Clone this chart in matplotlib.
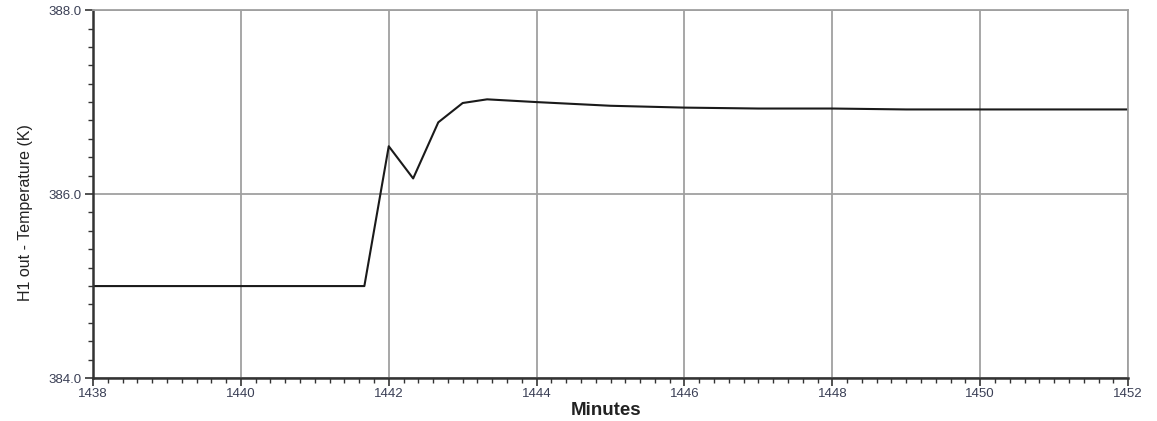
import matplotlib
matplotlib.use("Agg")
import matplotlib.pyplot as plt
from matplotlib.ticker import MultipleLocator, FormatStrFormatter

minutes = [1438.0, 1441.67, 1442.0, 1442.33, 1442.67, 1443.0, 1443.33, 1444.0,
           1445.0, 1446.0, 1447.0, 1448.0, 1449.0, 1450.0, 1451.0, 1452.0]
temperature = [385.0, 385.0, 386.52, 386.17, 386.78, 386.99, 387.03, 387.0,
               386.96, 386.94, 386.93, 386.93, 386.92, 386.92, 386.92, 386.92]

plt.rcParams['font.family'] = ['Liberation Sans', 'DejaVu Sans']

fig = plt.figure(figsize=(11.57, 4.21), dpi=100)
ax = fig.add_axes([0.0804, 0.102, 0.8946, 0.874])

ax.plot(minutes, temperature, color='#1a1a1a', lw=1.5)

ax.set_xlim(1438, 1452)
ax.set_ylim(384, 388)
ax.xaxis.set_major_locator(MultipleLocator(2))
ax.xaxis.set_minor_locator(MultipleLocator(0.2))
ax.yaxis.set_major_locator(MultipleLocator(2))
ax.yaxis.set_minor_locator(MultipleLocator(0.2))
ax.yaxis.set_major_formatter(FormatStrFormatter('%.1f'))

ax.grid(True, which='major', color='#a0a0a0', lw=1.3)
ax.tick_params(axis='both', which='major', length=6, width=1.2, labelsize=9.5,
               labelcolor='#3a3f55', color='#333333')
ax.tick_params(axis='both', which='minor', length=3.5, width=1.0, color='#333333')
ax.tick_params(axis='x', pad=1)
ax.tick_params(axis='y', pad=2)

for s in ['left', 'bottom']:
    ax.spines[s].set_color('#333333')
    ax.spines[s].set_linewidth(1.8)
for s in ['top', 'right']:
    ax.spines[s].set_color('#a0a0a0')
    ax.spines[s].set_linewidth(1.3)

ax.set_xlabel('Minutes', fontsize=13.5, fontweight='bold', color='#222222')
ax.set_ylabel('H1 out - Temperature (K)', fontsize=11.5, color='#222222')
ax.xaxis.set_label_coords(0.4957, -0.066)
ax.yaxis.set_label_coords(-0.058, 0.451)

fig.savefig('out.png', dpi=100)
